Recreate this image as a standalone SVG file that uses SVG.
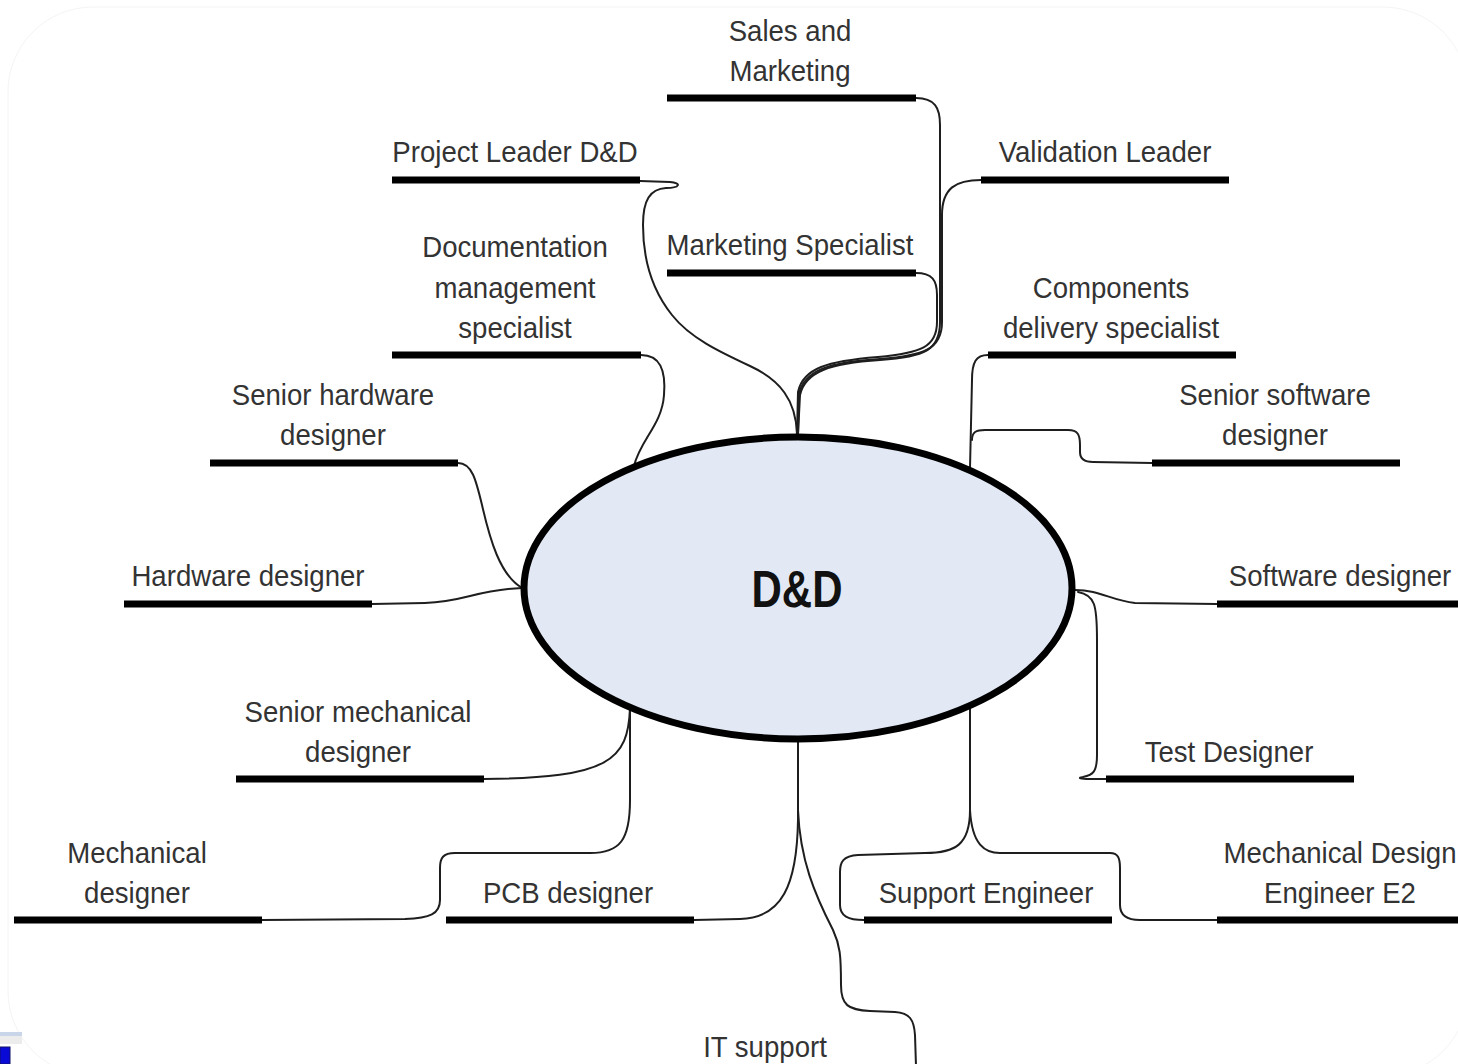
<svg xmlns="http://www.w3.org/2000/svg" width="1458" height="1064" viewBox="0 0 1458 1064">
  <style>
    .t { font-family: "Liberation Sans", Arial, sans-serif; font-size: 27.6px; fill: #333333; text-anchor: middle;
         transform-box: fill-box; transform-origin: center; transform: scaleY(1.1); }
    .hub { font-family: "Liberation Sans", Arial, sans-serif; font-size: 42px; font-weight: bold; fill: #111111; text-anchor: middle;
           transform-box: fill-box; transform-origin: center; transform: scaleY(1.22); }
    .bar { stroke: #000000; stroke-width: 7; fill: none; }
    .link { stroke: #1e1e1e; stroke-width: 2; fill: none; stroke-linecap: round; stroke-linejoin: round; }
  </style>

  <rect width="1458" height="1064" fill="#ffffff"/>
  <!-- faint page frame -->
  <rect x="8" y="7" width="1460" height="1069" rx="85" fill="none" stroke="#f4f4f4" stroke-width="1"/>
  <!-- window chrome remnants, lower left -->
  <rect x="0" y="1032" width="22" height="4" fill="#c9d6ea"/>
  <rect x="0" y="1036" width="22" height="8" fill="#ececec"/>
  <rect x="0" y="1047" width="10" height="17" fill="#0a0ad6" stroke="#10106a" stroke-width="1"/>

  <!-- connectors -->
  <g id="connectors">
    <path class="link" d="M640,181 L670,182 C682,183 680,188 666,188 C650,189 643,200 643,225 C643,260 652,290 672,315 C690,338 720,352 750,366 C780,380 796,400 797,434"/>
    <path class="link" d="M916,98 C935,98 940,108 940,125 L940,322 C940,350 925,357 880,360 C830,363 805,372 800,395 L798,434"/>
    <path class="link" d="M916,273 C932,273 937,280 937,295 L937,322 C937,347 921,353 878,357 C828,361 803,368 798,392 L797,434"/>
    <path class="link" d="M981,180 C956,180 942,188 942,215 L942,322 C942,349 924,356 880,359 C830,362 804,370 799,394 L798,434"/>
    <path class="link" d="M641,355 C660,355 666,370 664,395 C662,425 640,440 634,466"/>
    <path class="link" d="M458,463 C472,463 476,480 482,505 C490,540 500,575 522,588"/>
    <path class="link" d="M372,604 L425,603 C465,602 475,590 522,588"/>
    <path class="link" d="M988,355 C976,355 972,362 972,380 L970,468"/>
    <path class="link" d="M972,440 C972,432 976,430 985,430 L1068,430 C1078,430 1080,435 1080,445 L1080,452 C1080,459 1084,462 1093,462 L1152,463"/>
    <path class="link" d="M1075,590 C1100,590 1110,600 1135,603 L1217,604"/>
    <path class="link" d="M1078,592 C1095,595 1097,605 1097,640 L1097,755 C1097,772 1093,775 1083,777 C1077,778 1080,779 1090,779 L1106,779"/>
    <path class="link" d="M630,708 C628,760 610,778 484,779"/>
    <path class="link" d="M630,708 L630,800 C630,840 620,853 590,853 L455,853 C443,853 440,858 440,868 L440,900 C440,914 430,918 405,919 L262,920"/>
    <path class="link" d="M798,742 L798,820 C797,885 782,918 740,919 L694,920"/>
    <path class="link" d="M798,742 L798,810 C800,860 815,895 833,930 C840,945 841,955 841,985 C841,1005 848,1010 870,1011 L895,1012 C910,1013 914,1020 915,1035 L916,1066"/>
    <path class="link" d="M970,707 L970,810 C970,845 955,853 925,853 L858,855 C843,856 840,862 840,872 L840,905 C840,916 848,920 864,920"/>
    <path class="link" d="M970,707 L970,810 C972,845 985,853 1000,853 L1110,853 C1118,853 1120,858 1120,868 L1120,905 C1120,915 1126,920 1140,920 L1217,920"/>
  </g>

  <!-- central hub -->
  <g id="hub">
    <ellipse cx="798" cy="588" rx="274" ry="151" fill="#e2e9f5" stroke="#000000" stroke-width="7"/>
    <text class="hub" x="797" y="604">D&amp;D</text>
  </g>

  <g id="sales-marketing">
    <text class="t" x="790" y="40">Sales and</text>
    <text class="t" x="790" y="80">Marketing</text>
    <line class="bar" x1="667" y1="98" x2="916" y2="98"/>
  </g>
  <g id="project-leader">
    <text class="t" x="515" y="161">Project Leader D&amp;D</text>
    <line class="bar" x1="392" y1="180" x2="640" y2="180"/>
  </g>
  <g id="validation-leader">
    <text class="t" x="1105" y="161">Validation Leader</text>
    <line class="bar" x1="981" y1="180" x2="1229" y2="180"/>
  </g>
  <g id="marketing-specialist">
    <text class="t" x="790" y="254">Marketing Specialist</text>
    <line class="bar" x1="667" y1="273" x2="916" y2="273"/>
  </g>
  <g id="documentation">
    <text class="t" x="515" y="256">Documentation</text>
    <text class="t" x="515" y="297">management</text>
    <text class="t" x="515" y="337">specialist</text>
    <line class="bar" x1="392" y1="355" x2="641" y2="355"/>
  </g>
  <g id="components">
    <text class="t" x="1111" y="297">Components</text>
    <text class="t" x="1111" y="337">delivery specialist</text>
    <line class="bar" x1="988" y1="355" x2="1236" y2="355"/>
  </g>
  <g id="senior-hardware">
    <text class="t" x="333" y="404">Senior hardware</text>
    <text class="t" x="333" y="444">designer</text>
    <line class="bar" x1="210" y1="463" x2="458" y2="463"/>
  </g>
  <g id="senior-software">
    <text class="t" x="1275" y="404">Senior software</text>
    <text class="t" x="1275" y="444">designer</text>
    <line class="bar" x1="1152" y1="463" x2="1400" y2="463"/>
  </g>
  <g id="hardware-designer">
    <text class="t" x="248" y="585">Hardware designer</text>
    <line class="bar" x1="124" y1="604" x2="372" y2="604"/>
  </g>
  <g id="software-designer">
    <text class="t" x="1340" y="585">Software designer</text>
    <line class="bar" x1="1217" y1="604" x2="1465" y2="604"/>
  </g>
  <g id="senior-mechanical">
    <text class="t" x="358" y="721">Senior mechanical</text>
    <text class="t" x="358" y="761">designer</text>
    <line class="bar" x1="236" y1="779" x2="484" y2="779"/>
  </g>
  <g id="test-designer">
    <text class="t" x="1229" y="761">Test Designer</text>
    <line class="bar" x1="1106" y1="779" x2="1354" y2="779"/>
  </g>
  <g id="mechanical-designer">
    <text class="t" x="137" y="862">Mechanical</text>
    <text class="t" x="137" y="902">designer</text>
    <line class="bar" x1="14" y1="920" x2="262" y2="920"/>
  </g>
  <g id="pcb-designer">
    <text class="t" x="568" y="902">PCB designer</text>
    <line class="bar" x1="446" y1="920" x2="694" y2="920"/>
  </g>
  <g id="support-engineer">
    <text class="t" x="986" y="902">Support Engineer</text>
    <line class="bar" x1="864" y1="920" x2="1112" y2="920"/>
  </g>
  <g id="mechanical-design-engineer">
    <text class="t" x="1340" y="862">Mechanical Design</text>
    <text class="t" x="1340" y="902">Engineer E2</text>
    <line class="bar" x1="1217" y1="920" x2="1465" y2="920"/>
  </g>
  <g id="it-support">
    <text class="t" x="765" y="1056">IT support</text>
  </g>
</svg>
